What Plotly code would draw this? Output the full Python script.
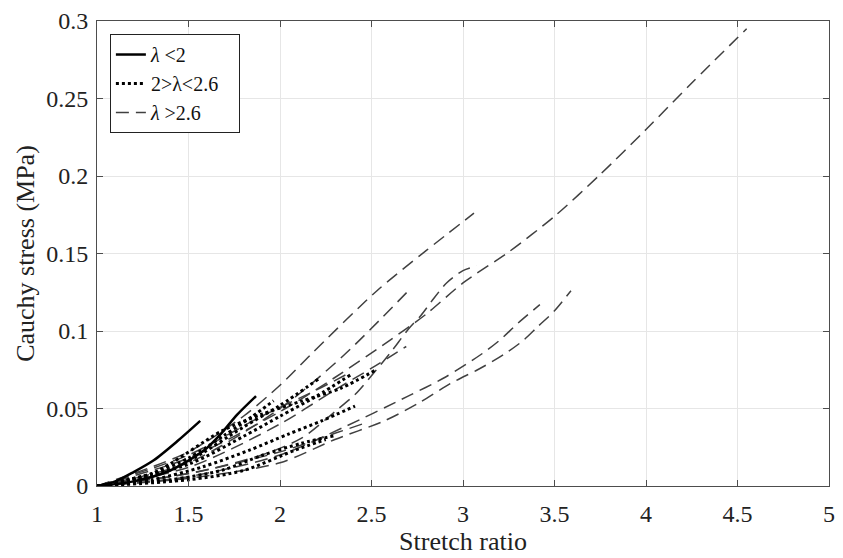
import plotly.graph_objects as go

# ---- data (stretch ratio, Cauchy stress MPa) ----
# solid: lambda < 2
s1_x = [1.0, 1.1, 1.2, 1.31, 1.44, 1.564]
s1_y = [0.0, 0.003, 0.009, 0.0166, 0.029, 0.042]
s2_x = [1.0, 1.2, 1.4, 1.585, 1.676, 1.766, 1.869]
s2_y = [0.0, 0.003, 0.010, 0.023, 0.0335, 0.046, 0.058]

# dotted: 2 < lambda < 2.6
t0_x = [1.0, 1.3, 1.5, 1.7, 1.85, 1.965]
t0_y = [0.0, 0.008, 0.018, 0.033, 0.045, 0.055]
t1_x = [1.0, 1.3, 1.5, 1.8, 2.0, 2.21]
t1_y = [0.0, 0.006, 0.016, 0.038, 0.052, 0.069]
t2_x = [1.0, 1.5, 1.8, 2.0, 2.2, 2.39]
t2_y = [0.0, 0.014, 0.032, 0.045, 0.058, 0.072]
t3_x = [1.0, 1.3, 1.685, 1.9, 2.118, 2.335, 2.525]
t3_y = [0.0, 0.008, 0.0357, 0.0463, 0.0548, 0.0632, 0.075]
t4_x = [1.0, 1.3, 1.576, 1.83, 2.046, 2.227, 2.41]
t4_y = [0.0, 0.004, 0.0123, 0.023, 0.0335, 0.042, 0.0516]
t5_x = [1.0, 1.4, 1.685, 1.9, 2.118, 2.30]
t5_y = [0.0, 0.004, 0.0102, 0.0197, 0.0276, 0.0325]
t6_x = [1.0, 1.5, 1.8, 2.08, 2.25]
t6_y = [0.0, 0.004, 0.010, 0.023, 0.030]

# dashed: lambda > 2.6
d1_x = [1.0, 1.5, 2.0, 2.3, 2.6, 2.8, 3.0, 3.25, 3.5, 3.75, 4.0, 4.25, 4.55]
d1_y = [0.0, 0.018, 0.048, 0.070, 0.094, 0.111, 0.131, 0.151, 0.174, 0.201, 0.230, 0.260, 0.295]
d2_x = [1.0, 1.5, 1.8, 2.0, 2.17, 2.53, 2.8, 3.06]
d2_y = [0.0, 0.022, 0.045, 0.065, 0.085, 0.126, 0.152, 0.176]
d3_x = [1.0, 1.5, 2.0, 2.35, 2.71]
d3_y = [0.0, 0.015, 0.050, 0.0845, 0.127]
d4_x = [1.0, 1.5, 1.9, 2.12, 2.3, 2.41, 2.52, 2.61, 2.70, 2.77, 2.84, 2.91, 3.0, 3.076]
d4_y = [0.0, 0.008, 0.020, 0.031, 0.048, 0.059, 0.074, 0.087, 0.101, 0.110, 0.121, 0.131, 0.139, 0.142]
d5_x = [1.0, 1.5, 2.0, 2.3, 2.5, 2.69]
d5_y = [0.0, 0.012, 0.040, 0.062, 0.076, 0.090]
d6_x = [1.0, 1.5, 2.0, 2.35, 2.7, 2.9, 3.1, 3.2, 3.3, 3.42]
d6_y = [0.0, 0.006, 0.020, 0.038, 0.058, 0.070, 0.085, 0.094, 0.105, 0.117]
d7_x = [1.0, 1.5, 2.0, 2.3, 2.57, 2.75, 2.93, 3.08, 3.17, 3.25, 3.33, 3.41, 3.5, 3.59]
d7_y = [0.0, 0.005, 0.015, 0.030, 0.042, 0.053, 0.066, 0.075, 0.081, 0.087, 0.094, 0.103, 0.113, 0.126]
d8_x = [1.0, 1.5, 1.9, 2.2, 2.38]
d8_y = [0.0, 0.020, 0.045, 0.062, 0.073]
d9_x = [1.0, 1.5, 2.0, 2.3, 2.45]
d9_y = [0.0, 0.008, 0.022, 0.034, 0.040]

legend_names = ["<i>λ</i> &lt;2", "2&gt;λ&lt;2.6&nbsp;&nbsp;&nbsp;", "<i>λ</i> &gt;2.6"]
x_ticks = [1, 1.5, 2, 2.5, 3, 3.5, 4, 4.5, 5]
y_ticks = [0, 0.05, 0.1, 0.15, 0.2, 0.25, 0.3]

FONT = '"Liberation Serif", "Times New Roman", Times, serif'

solid_style = dict(color="black", width=2.5)
dot_style = dict(color="black", width=3, dash="dot")
dash_style = dict(color="#404040", width=1.5, dash="13px,7px")

fig = go.Figure()

solid = [(s1_x, s1_y), (s2_x, s2_y)]
dotted = [(t0_x, t0_y), (t1_x, t1_y), (t2_x, t2_y), (t3_x, t3_y),
          (t4_x, t4_y), (t5_x, t5_y), (t6_x, t6_y)]
dashed = [(d1_x, d1_y), (d2_x, d2_y), (d3_x, d3_y), (d4_x, d4_y), (d5_x, d5_y),
          (d6_x, d6_y), (d7_x, d7_y), (d8_x, d8_y), (d9_x, d9_y)]

ranks = {legend_names[0]: 1, legend_names[1]: 2, legend_names[2]: 3}
for group, style, name in [(dashed, dash_style, legend_names[2]),
                           (dotted, dot_style, legend_names[1]),
                           (solid, solid_style, legend_names[0])]:
    for i, (xs, ys) in enumerate(group):
        fig.add_trace(go.Scatter(
            x=xs, y=ys, mode="lines", line=dict(shape="spline", smoothing=0.8, **style),
            name=name, legendgroup=name, showlegend=(i == 0), legendrank=ranks[name],
        ))

axis_common = dict(
    showgrid=True, gridcolor="#e6e6e6", gridwidth=1,
    showline=True, linecolor="#4d4d4d", linewidth=1, mirror="ticks",
    ticks="inside", ticklen=6, tickcolor="#4d4d4d",
    zeroline=False,
    tickfont=dict(family=FONT, size=24, color="#222222"),
)

fig.update_layout(
    width=843, height=558,
    margin=dict(l=97, r=8, t=15, b=72),
    paper_bgcolor="white", plot_bgcolor="white",
    font=dict(family=FONT, color="#222222"),
    xaxis=dict(range=[1, 5], tickvals=x_ticks, ticklabelstandoff=6,
               title=dict(text="Stretch ratio", font=dict(family=FONT, size=26), standoff=0),
               **axis_common),
    yaxis=dict(range=[0, 0.3], tickvals=y_ticks, ticklabelstandoff=3,
               title=dict(text="Cauchy stress (MPa)", font=dict(family=FONT, size=26), standoff=4),
               **axis_common),
    legend=dict(x=0.0176, y=0.972, xanchor="left", yanchor="top",
                bgcolor="white", bordercolor="#222222", borderwidth=1,
                font=dict(family=FONT, size=20, color="#111111"),
                tracegroupgap=0),
    showlegend=True,
)

fig.write_html(
    "out.html",
    config={"displayModeBar": False},
    post_script="document.body.style.margin='0px';document.body.style.overflow='hidden';",
)
